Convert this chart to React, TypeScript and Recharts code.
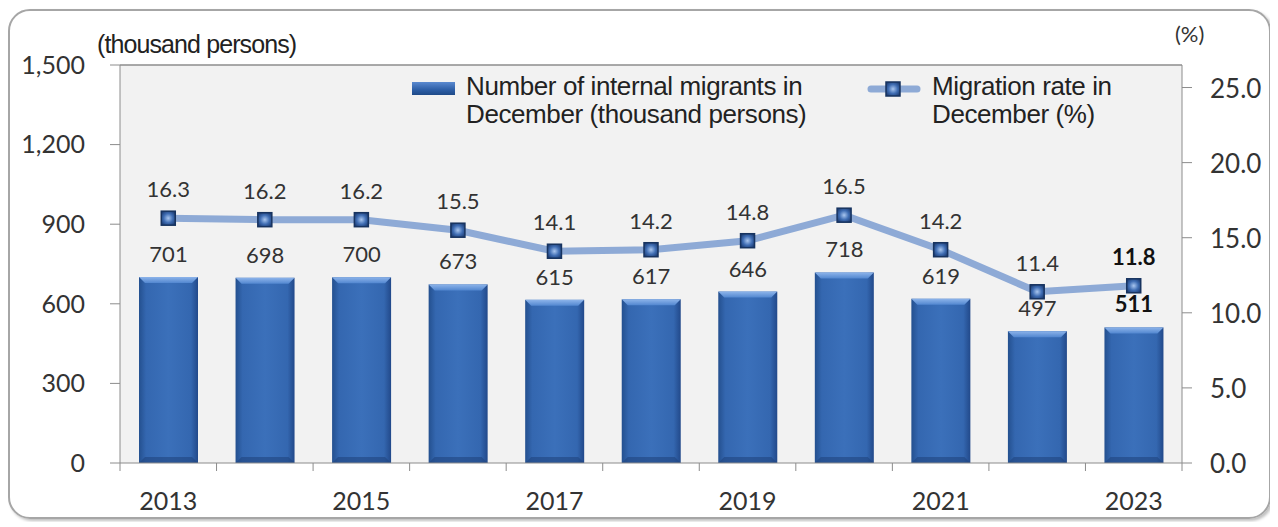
import React from 'react';
import {
  ComposedChart,
  Bar,
  Line,
  XAxis,
  YAxis,
  CartesianGrid,
  ReferenceLine,
  LabelList,
} from 'recharts';

const years = ['2013', '2014', '2015', '2016', '2017', '2018', '2019', '2020', '2021', '2022', '2023'];
const migrants = [701, 698, 700, 673, 615, 617, 646, 718, 619, 497, 511];
const rates = [16.3, 16.2, 16.2, 15.5, 14.1, 14.2, 14.8, 16.5, 14.2, 11.4, 11.8];
const leftTicks = [0, 300, 600, 900, 1200, 1500];
const rightTicks = [0, 5, 10, 15, 20, 25];
const xLabelYears = ['2013', '2015', '2017', '2019', '2021', '2023'];

const data = years.map((year, i) => ({ year, migrants: migrants[i], rate: rates[i] }));

const W = 1262;
const H = 512;
const MARGIN = { top: 57, right: 8, bottom: 17, left: 32 };
const Y_WIDTH = 80;
const PLOT_W = W - MARGIN.left - MARGIN.right - 2 * Y_WIDTH;
const PLOT_RIGHT = W - MARGIN.right - Y_WIDTH;
const BAND = PLOT_W / years.length;

const NUM_FONT = 'Lato, "Open Sans", sans-serif';
const TXT_FONT = '"Liberation Sans", Arial, sans-serif';
const AXIS_GRAY = '#8c8c8c';
const TEXT = '#333333';

const fmtThousands = (v: number) => v.toLocaleString('en-US');

// bar with darker edges and a lighter bevel on top
const BevelBar = (props: any) => {
  const { x, y, width, height } = props;
  if (!height || height <= 0) return null;
  const b = 6;
  return (
    <g>
      <rect x={x} y={y} width={width} height={height} fill="url(#barGrad)" />
      <polygon
        points={`${x},${y} ${x + width},${y} ${x + width - b},${y + b} ${x + b},${y + b}`}
        fill="url(#bevelGrad)"
      />
      <polygon
        points={`${x},${y + height} ${x + width},${y + height} ${x + width - b},${y + height - b} ${x + b},${y + height - b}`}
        fill="#1f457f"
        opacity={0.6}
      />
    </g>
  );
};

const SquareDot = (props: any) => {
  const { cx, cy } = props;
  if (cx == null || cy == null) return null;
  const s = 14;
  return (
    <rect
      x={cx - s / 2}
      y={cy - s / 2}
      width={s}
      height={s}
      fill="url(#dotGrad)"
      stroke="#17335f"
      strokeWidth={1.5}
    />
  );
};

const BarValue = (props: any) => {
  const { x, y, width, value, index } = props;
  const last = index === years.length - 1;
  return (
    <text
      x={x + width / 2}
      y={y - 15}
      textAnchor="middle"
      fontFamily={NUM_FONT}
      fontSize={22}
      fontWeight={last ? 700 : 400}
      fill={last ? '#111' : TEXT}
    >
      {value}
    </text>
  );
};

const RateValue = (props: any) => {
  const { x, y, value, index } = props;
  const last = index === years.length - 1;
  return (
    <text
      x={x}
      y={y - 21}
      textAnchor="middle"
      fontFamily={NUM_FONT}
      fontSize={22}
      fontWeight={last ? 700 : 400}
      fill={last ? '#111' : TEXT}
    >
      {Number(value).toFixed(1)}
    </text>
  );
};

// ticks sit on the category boundaries, labels on every other year
const YearTick = (props: any) => {
  const { x, y, payload, index } = props;
  const left = x - BAND / 2;
  return (
    <g>
      <line x1={left} y1={y} x2={left} y2={y + 8} stroke={AXIS_GRAY} />
      {index === years.length - 1 && (
        <line x1={x + BAND / 2} y1={y} x2={x + BAND / 2} y2={y + 8} stroke={AXIS_GRAY} />
      )}
      {xLabelYears.includes(payload.value) && (
        <text
          x={x}
          y={y + 37}
          textAnchor="middle"
          dominantBaseline="central"
          fontFamily={NUM_FONT}
          fontSize={25}
          fill={TEXT}
        >
          {payload.value}
        </text>
      )}
    </g>
  );
};

const RateTick = (props: any) => {
  const { y, payload } = props;
  return (
    <g>
      <line x1={PLOT_RIGHT} y1={y} x2={PLOT_RIGHT + 10} y2={y} stroke={AXIS_GRAY} />
      <text
        x={PLOT_RIGHT + 28}
        y={y}
        dominantBaseline="central"
        textAnchor="start"
        fontFamily={NUM_FONT}
        fontSize={26}
        fill={TEXT}
      >
        {Number(payload.value).toFixed(1)}
      </text>
    </g>
  );
};

const LegendBox = () => {
  const textStyle: React.CSSProperties = {
    fontFamily: TXT_FONT,
    fontSize: 26,
    lineHeight: '28px',
    color: '#222',
    letterSpacing: -0.4,
    whiteSpace: 'nowrap',
  };
  return (
    <div style={{ position: 'absolute', left: 404, top: 70, width: 860, height: 60 }}>
      <div
        style={{
          position: 'absolute',
          left: 0,
          top: 4,
          width: 43,
          height: 13,
          background: 'linear-gradient(#5b8ad0, #2d5ea6 60%, #1f4a88)',
        }}
      />
      <div style={{ ...textStyle, position: 'absolute', left: 54, top: -6 }}>
        Number of internal migrants in
        <br />
        December (thousand persons)
      </div>
      <svg style={{ position: 'absolute', left: 455, top: 0 }} width={55} height={22}>
        <defs>
          <radialGradient id="legDot" cx="50%" cy="50%" r="60%">
            <stop offset="0%" stopColor="#a9c6ef" />
            <stop offset="55%" stopColor="#3f6db3" />
            <stop offset="100%" stopColor="#1d3d74" />
          </radialGradient>
        </defs>
        <line x1={4} y1={11} x2={50} y2={11} stroke="#8eaad6" strokeWidth={7} strokeLinecap="round" />
        <rect x={19} y={4} width={14} height={14} fill="url(#legDot)" stroke="#17335f" strokeWidth={1.5} />
      </svg>
      <div style={{ ...textStyle, position: 'absolute', left: 520, top: -6 }}>
        Migration rate in
        <br />
        December (%)
      </div>
    </div>
  );
};

export default function App() {
  return (
    <div style={{ position: 'relative', width: W + 4, height: H + 2 }}>
      <div
        style={{
          position: 'absolute',
          left: 0,
          top: 1,
          width: W + 1,
          height: H - 2,
          border: '2px solid #a6a6a6',
          borderRadius: 22,
          boxShadow: '2px 2px 3px rgba(0,0,0,0.25)',
          boxSizing: 'border-box',
          pointerEvents: 'none',
        }}
      />
      <div
        style={{
          position: 'absolute',
          left: 89,
          top: 22,
          fontFamily: TXT_FONT,
          fontSize: 25,
          letterSpacing: -0.9,
          color: '#222',
          whiteSpace: 'nowrap',
        }}
      >
        (thousand persons)
      </div>
      <div
        style={{
          position: 'absolute',
          left: 1167,
          top: 12,
          fontFamily: NUM_FONT,
          fontSize: 22,
          color: TEXT,
        }}
      >
        (%)
      </div>
      <ComposedChart width={W} height={H} data={data} margin={MARGIN} barCategoryGap={0}>
        <defs>
          <linearGradient id="barGrad" x1="0" y1="0" x2="1" y2="0">
            <stop offset="0%" stopColor="#24508f" />
            <stop offset="12%" stopColor="#3467b0" />
            <stop offset="50%" stopColor="#3b70ba" />
            <stop offset="88%" stopColor="#3467b0" />
            <stop offset="100%" stopColor="#22498a" />
          </linearGradient>
          <linearGradient id="bevelGrad" x1="0" y1="0" x2="0" y2="1">
            <stop offset="0%" stopColor="#8db4ea" />
            <stop offset="100%" stopColor="#5287d0" />
          </linearGradient>
          <radialGradient id="dotGrad" cx="50%" cy="50%" r="60%">
            <stop offset="0%" stopColor="#a9c6ef" />
            <stop offset="55%" stopColor="#3f6db3" />
            <stop offset="100%" stopColor="#1d3d74" />
          </radialGradient>
        </defs>
        <CartesianGrid fill="#f2f2f2" horizontal={false} vertical={false} />
        <XAxis
          dataKey="year"
          xAxisId="x"
          interval={0}
          tickLine={false}
          tickSize={0}
          tickMargin={0}
          height={40}
          axisLine={{ stroke: AXIS_GRAY }}
          tick={<YearTick />}
        />
        <YAxis
          yAxisId="left"
          orientation="left"
          width={Y_WIDTH}
          domain={[0, 1500]}
          ticks={leftTicks}
          tickFormatter={fmtThousands}
          tickSize={10}
          tickMargin={25}
          axisLine={{ stroke: AXIS_GRAY }}
          tickLine={{ stroke: AXIS_GRAY }}
          tick={{ fill: TEXT, fontSize: 25, fontFamily: NUM_FONT }}
        />
        <YAxis
          yAxisId="right"
          orientation="right"
          width={Y_WIDTH}
          domain={[0, 26.5]}
          ticks={rightTicks}
          allowDataOverflow
          tickLine={false}
          axisLine={{ stroke: AXIS_GRAY }}
          tick={<RateTick />}
        />
        <ReferenceLine yAxisId="left" xAxisId="x" y={1500} stroke={AXIS_GRAY} strokeWidth={1.5} />
        <Bar
          dataKey="migrants"
          xAxisId="x"
          yAxisId="left"
          barSize={59}
          shape={<BevelBar />}
          isAnimationActive={false}
        >
          <LabelList dataKey="migrants" content={<BarValue />} />
        </Bar>
        <Line
          dataKey="rate"
          xAxisId="x"
          yAxisId="right"
          stroke="#8eaad6"
          strokeWidth={7}
          dot={<SquareDot />}
          activeDot={false}
          isAnimationActive={false}
        >
          <LabelList dataKey="rate" content={<RateValue />} />
        </Line>
      </ComposedChart>
      <LegendBox />
    </div>
  );
}
